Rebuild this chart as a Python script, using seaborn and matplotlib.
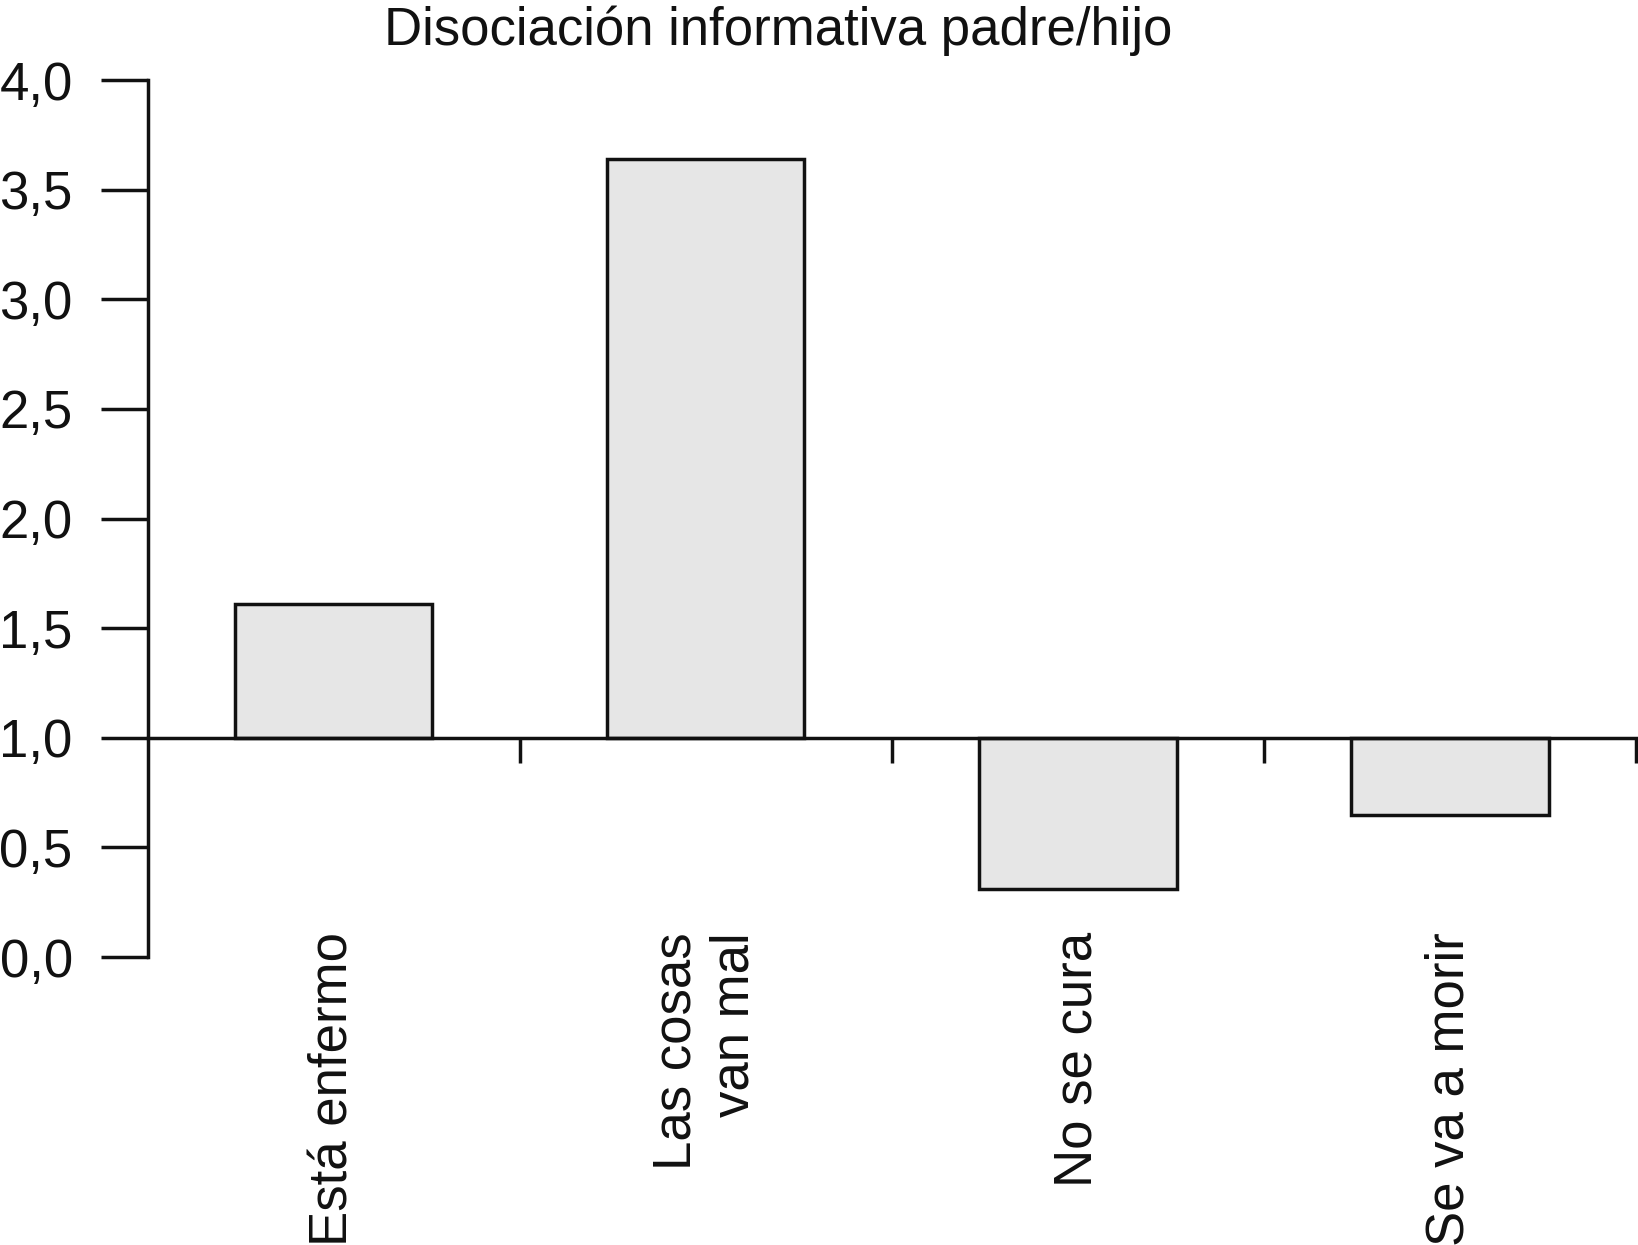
import numpy as np
import pandas as pd
import matplotlib
matplotlib.use("Agg")
import matplotlib.pyplot as plt
import seaborn as sns

# values (baseline of the bars is 1,0)
categories = ["Está enfermo", "Las cosas\nvan mal", "No se cura", "Se va a morir"]
values = [1.61, 3.64, 0.31, 0.65]
baseline = 1.0
ytick_values = [0.0, 0.5, 1.0, 1.5, 2.0, 2.5, 3.0, 3.5, 4.0]
ytick_labels = [f"{v:.1f}".replace(".", ",") for v in ytick_values]
title = "Disociación informativa padre/hijo"

sns.set_style("ticks")
plt.rcParams["font.family"] = ["Liberation Sans", "DejaVu Sans"]

ink = "#111111"
fsize = 38
lw = 2.5

df = pd.DataFrame({"categoria": categories,
                   "diferencia": [v - baseline for v in values]})

fig = plt.figure(figsize=(16.38, 12.45), dpi=100)
ax = fig.add_axes([0.0902, 0.2313, 0.9086, 0.7044])

sns.barplot(data=df, x="categoria", y="diferencia", bottom=baseline,
            width=0.53, color="#e6e6e6", saturation=1, errorbar=None,
            edgecolor=ink, linewidth=lw, ax=ax)

ax.set_ylim(0, 4)
ax.set_xlim(-0.5, len(categories) - 0.5)
ax.set_xlabel("")
ax.set_ylabel("")

# y axis
ax.set_yticks(ytick_values)
ax.set_yticklabels(ytick_labels)
ax.tick_params(axis="y", which="major", length=34, width=lw, pad=20,
               labelsize=fsize, colors=ink)

# x axis drawn at the baseline, boundary ticks pointing down
ax.spines["bottom"].set_position(("data", baseline))
ax.spines["top"].set_visible(False)
ax.spines["right"].set_visible(False)
for s in ["left", "bottom"]:
    ax.spines[s].set_linewidth(lw)
    ax.spines[s].set_color(ink)

ax.set_xticks(range(len(categories)))
ax.set_xticklabels(categories, rotation=90, va="top", ha="center")
for lab in ax.get_xticklabels():
    lab.set_multialignment("right")
ax.set_xticks(np.arange(len(categories)) + 0.5, minor=True)
ax.tick_params(axis="x", which="major", length=0, pad=140,
               labelsize=fsize, colors=ink)
ax.tick_params(axis="x", which="minor", length=18, width=lw, color=ink,
               direction="out")

fig.text(0.475, 0.9639, title, ha="center", va="baseline",
         fontsize=fsize, color=ink)

fig.savefig("out.png", dpi=100, facecolor="white")
